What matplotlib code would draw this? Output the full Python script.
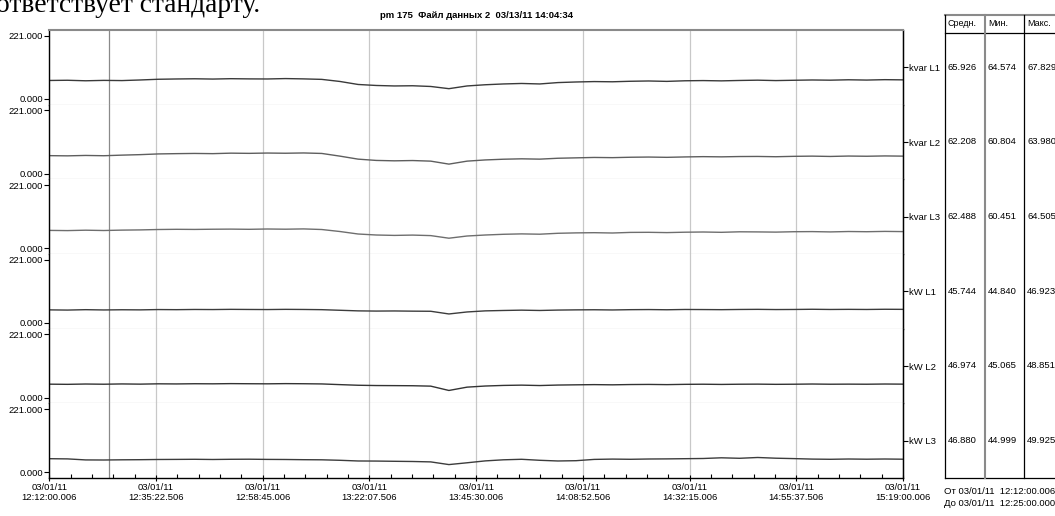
import numpy as np
import matplotlib
matplotlib.use("Agg")
import matplotlib.pyplot as plt
from matplotlib.lines import Line2D
from matplotlib.ticker import MultipleLocator

plt.rcParams['font.family'] = ['Liberation Sans', 'DejaVu Sans']

# ---------------- data ----------------
title = "pm 175  Файл данных 2  03/13/11 14:04:34"
top_text = "ответствует стандарту."
series_names = ["kvar L1", "kvar L2", "kvar L3", "kW L1", "kW L2", "kW L3"]
series_colors = ["#3a3a3a", "#5e5e5e", "#6e6e6e", "#3c3c3c", "#333333", "#3c3c3c"]

duration_min = 187.0      # 12:12:00.006 .. 15:19:00.006
cursor_min = 13.0         # 12:25:00.000

kvar_l1 = [64.6, 65.3, 63.5, 64.9, 64.2, 66.3, 68.8, 69.8, 70.5, 69.5, 70.8, 70.1, 69.8, 71.2, 70.1, 68.4,
           61.1, 50.6, 47.1, 45.4, 46.1, 43.6, 35.9, 45.4, 49.6, 52.4, 54.1, 52.4, 57.2, 59.3, 60.7, 60.0,
           61.8, 62.8, 61.4, 63.5, 64.2, 63.2, 64.6, 65.6, 64.2, 65.3, 66.3, 65.6, 67.0, 66.0, 67.4, 66.7]
kvar_l2 = [62.8, 62.1, 63.5, 62.5, 64.6, 66.3, 68.8, 69.8, 70.5, 69.8, 71.5, 70.8, 71.9, 71.2, 72.2, 70.5,
           61.1, 50.6, 46.1, 44.7, 45.7, 43.6, 33.2, 43.6, 47.8, 50.3, 51.7, 50.6, 53.7, 55.1, 56.5, 55.8,
           57.2, 57.9, 56.9, 58.3, 59.3, 58.6, 59.7, 60.0, 59.0, 60.4, 61.1, 60.0, 61.4, 60.7, 61.8, 61.1]
kvar_l3 = [62.5, 61.8, 63.2, 62.1, 63.5, 64.2, 65.6, 66.3, 65.9, 66.6, 67.0, 66.3, 67.4, 66.7, 67.7, 65.6,
           58.6, 49.9, 46.4, 45.0, 46.1, 44.3, 35.2, 42.9, 46.4, 48.9, 50.3, 49.2, 52.4, 53.8, 54.5, 53.4,
           55.5, 55.8, 54.8, 56.2, 56.9, 55.8, 57.6, 57.2, 56.5, 57.9, 58.3, 57.2, 58.6, 57.9, 59.0, 58.3]
kw_l1 = [45.7, 45.0, 46.4, 45.4, 46.1, 45.7, 46.8, 46.4, 47.1, 46.8, 47.5, 47.1, 46.8, 47.5, 47.1, 46.4,
         44.3, 42.2, 41.5, 41.9, 41.2, 40.8, 31.4, 38.4, 42.2, 43.6, 44.7, 43.6, 45.0, 45.7, 46.1, 45.4,
         46.4, 46.8, 46.1, 47.1, 46.8, 46.4, 47.1, 47.5, 46.8, 47.1, 47.8, 47.1, 47.5, 47.1, 47.8, 47.5]
kw_l2 = [47.0, 46.4, 47.5, 46.8, 47.8, 47.1, 48.2, 47.8, 48.5, 48.2, 48.9, 48.5, 48.2, 48.9, 48.5, 47.8,
         45.4, 43.2, 42.2, 41.9, 41.5, 40.1, 25.0, 36.6, 40.5, 42.6, 43.6, 42.2, 43.9, 44.7, 45.4, 44.7,
         45.7, 46.1, 45.4, 46.4, 46.8, 46.1, 46.8, 47.1, 46.4, 46.8, 47.5, 46.8, 47.1, 46.8, 47.5, 47.1]
kw_l3 = [47.5, 46.8, 43.2, 42.9, 43.6, 44.0, 44.7, 45.0, 45.4, 44.7, 45.4, 45.7, 45.0, 44.7, 44.0, 43.6,
         41.9, 39.5, 39.2, 38.4, 37.7, 36.3, 26.9, 33.2, 39.8, 43.6, 45.4, 41.9, 39.5, 40.5, 45.0, 46.1,
         45.4, 46.4, 46.8, 47.5, 48.2, 50.6, 48.9, 51.7, 49.2, 47.8, 46.1, 45.4, 46.4, 45.7, 46.4, 45.7]
all_series = [kvar_l1, kvar_l2, kvar_l3, kw_l1, kw_l2, kw_l3]

x_tick_labels = ["03/01/11\n12:12:00.006", "03/01/11\n12:35:22.506", "03/01/11\n12:58:45.006",
                 "03/01/11\n13:22:07.506", "03/01/11\n13:45:30.006", "03/01/11\n14:08:52.506",
                 "03/01/11\n14:32:15.006", "03/01/11\n14:55:37.506", "03/01/11\n15:19:00.006"]
y_tick_values = [0, 221]
y_tick_labels = ["0.000", "221.000"]

table_headers = ["Средн.", "Мин.", "Макс."]
avg_vals = ["65.926", "62.208", "62.488", "45.744", "46.974", "46.880"]
min_vals = ["64.574", "60.804", "60.451", "44.840", "45.065", "44.999"]
max_vals = ["67.829", "63.980", "64.505", "46.923", "48.851", "49.925"]
footer_lines = ["От 03/01/11  12:12:00.006", "До 03/01/11  12:25:00.000"]

# ---------------- layout ----------------
W, H = 1055, 516
fig = plt.figure(figsize=(W / 100, H / 100), dpi=100)


def fx(x):
    return x / W


def fy(y):
    return 1 - y / H


plot_left, plot_right = 49.3, 903.0
plot_top, plot_bottom = 30.0, 478.0
n = len(series_names)
strip_h = (plot_bottom - plot_top) / n
FS = 6.8
grid_c = "#c8c8c8"

t = np.linspace(0, duration_min, len(kvar_l1))
major_step = duration_min / 8

axes = []
for k in range(n):
    top = plot_top + k * strip_h
    ax = fig.add_axes([fx(plot_left), fy(top + strip_h), (plot_right - plot_left) / W, strip_h / H])
    axes.append(ax)
    ax.set_xlim(0, duration_min)
    ax.set_ylim(-20, 241)
    ax.plot(t, all_series[k], color=series_colors[k], lw=1.0)
    ax.axvline(cursor_min, color="#8a8a8a", lw=0.9, zorder=1)
    ax.xaxis.set_major_locator(MultipleLocator(major_step))
    ax.xaxis.set_minor_locator(MultipleLocator(major_step / 5))
    ax.grid(axis="x", which="major", color=grid_c, lw=0.9)
    ax.set_axisbelow(True)
    ax.set_yticks(y_tick_values)
    ax.set_yticklabels(y_tick_labels, fontsize=FS)
    ax.tick_params(axis="y", which="both", direction="out", length=3.5, width=0.8, pad=1, colors="black")
    for s in ["left", "right"]:
        ax.spines[s].set_color("black")
        ax.spines[s].set_linewidth(1.0)
    if k == 0:
        ax.spines["top"].set_color("#8a8a8a")
        ax.spines["top"].set_linewidth(1.5)
    else:
        ax.spines["top"].set_visible(False)
    if k == n - 1:
        ax.spines["bottom"].set_color("black")
        ax.spines["bottom"].set_linewidth(1.0)
        ax.set_xticks([i * major_step for i in range(9)])
        ax.set_xticklabels(x_tick_labels, fontsize=FS, linespacing=1.15)
        ax.tick_params(axis="x", which="major", direction="inout", length=5, width=0.8, pad=1)
        ax.tick_params(axis="x", which="minor", direction="in", length=3, width=0.8)
    else:
        ax.spines["bottom"].set_color(grid_c)
        ax.spines["bottom"].set_linewidth(0.9)
        ax.tick_params(axis="x", which="both", bottom=False, labelbottom=False)
    sec = ax.secondary_yaxis("right")
    sec.set_yticks([110.5])
    sec.set_yticklabels([series_names[k]], fontsize=FS)
    sec.tick_params(direction="out", length=3.5, width=0.8, pad=1)
    sec.spines["right"].set_color("black")

# title and the text cut off at the top edge (as in the reference)
fig.text(fx(476), fy(15), title, fontsize=FS, fontweight="bold", ha="center", va="center")
fig.text(fx(-4), fy(11.5), top_text, fontsize=19.8, family="Liberation Serif", ha="left", va="baseline")

# ---------------- table ----------------
col_x = [945, 985, 1024]
tab_top, tab_head, tab_bot = 15, 33, 478
fig.add_artist(Line2D([fx(945), fx(1055)], [fy(tab_top), fy(tab_top)], color="#8a8a8a", lw=1.5))
fig.add_artist(Line2D([fx(945), fx(1055)], [fy(tab_head), fy(tab_head)], color="black", lw=0.9))
fig.add_artist(Line2D([fx(945), fx(1055)], [fy(tab_bot), fy(tab_bot)], color="black", lw=0.9))
fig.add_artist(Line2D([fx(945), fx(945)], [fy(tab_top), fy(tab_bot)], color="black", lw=0.9))
fig.add_artist(Line2D([fx(985), fx(985)], [fy(tab_top), fy(tab_bot)], color="#8a8a8a", lw=1.5))
fig.add_artist(Line2D([fx(1024), fx(1024)], [fy(tab_top), fy(tab_bot)], color="black", lw=0.9))

for j, hdr in enumerate(table_headers):
    fig.text(fx(col_x[j] + 3), fy(24), hdr, fontsize=FS - 0.3, ha="left", va="center")
for k in range(n):
    yc = plot_top + (k + 0.5) * strip_h
    for j, vals in enumerate([avg_vals, min_vals, max_vals]):
        fig.text(fx(col_x[j] + 3), fy(yc), vals[k], fontsize=FS, ha="left", va="center")

fig.text(fx(944), fy(491), footer_lines[0], fontsize=FS, ha="left", va="center")
fig.text(fx(944), fy(504), footer_lines[1], fontsize=FS, ha="left", va="center")

fig.savefig("out.png", dpi=100, facecolor="white")
